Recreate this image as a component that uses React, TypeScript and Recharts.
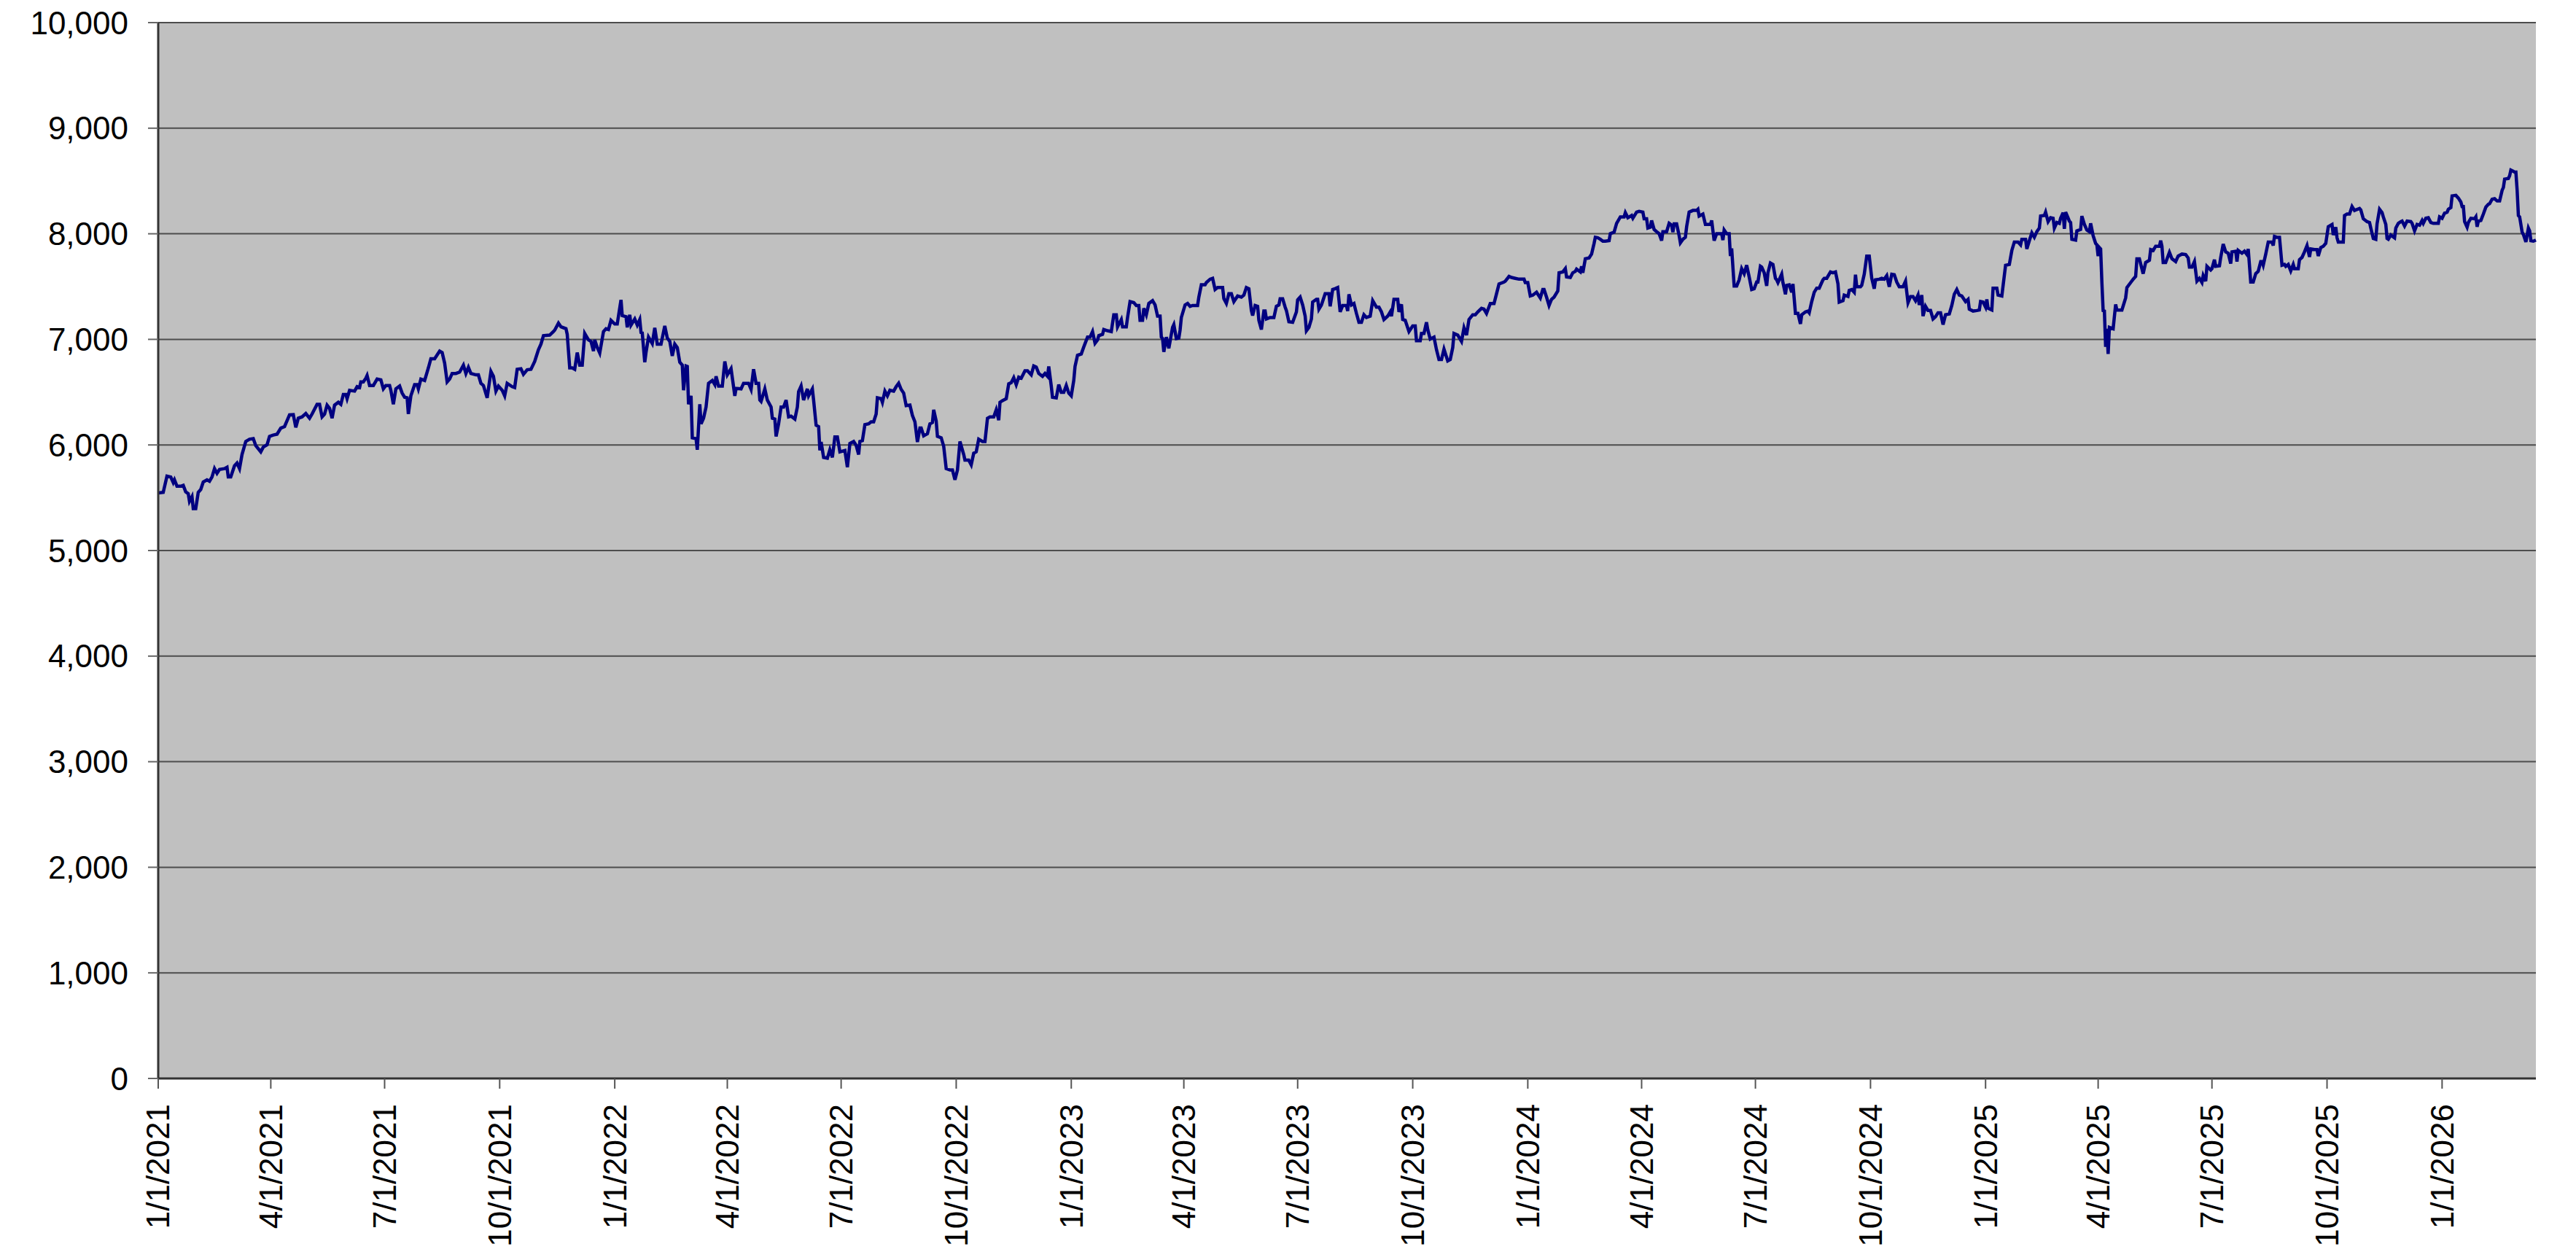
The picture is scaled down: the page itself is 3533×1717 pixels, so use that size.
import { CartesianGrid, Line, LineChart, XAxis, YAxis } from "recharts";

// Daily closes, as [days since 1/1/2021, value].
const closes2021: [number, number][] = [
  [0, 5546], [4, 5551], [7, 5705], [10, 5697], [12, 5644], [13, 5670], [15, 5609], [18, 5609], [20, 5617],
  [22, 5556], [24, 5538], [25, 5466], [27, 5511], [28, 5397], [30, 5397], [32, 5551], [34, 5578], [36, 5649],
  [39, 5670], [41, 5657], [43, 5697], [45, 5776], [47, 5731], [49, 5768], [53, 5776], [55, 5789], [56, 5697],
  [58, 5697], [61, 5803], [63, 5829], [65, 5776], [67, 5909], [70, 6033], [73, 6054], [76, 6060], [78, 5993],
  [82, 5935], [84, 5980], [87, 6001], [89, 6081], [92, 6094], [95, 6102], [98, 6160], [101, 6174], [105, 6285],
  [108, 6287], [110, 6166], [112, 6253], [115, 6266], [118, 6298], [121, 6253], [123, 6293], [127, 6385],
  [129, 6385], [131, 6266], [133, 6293], [135, 6377], [137, 6346], [139, 6253], [141, 6377], [144, 6404],
  [146, 6385], [148, 6478], [150, 6478], [151, 6438], [153, 6518], [157, 6510], [159, 6552], [161, 6544],
  [162, 6597], [164, 6597], [166, 6632], [167, 6658], [169, 6563], [172, 6563], [175, 6624], [178, 6616],
  [180, 6531], [182, 6563], [185, 6563], [186, 6518], [188, 6385], [190, 6531], [193, 6558], [195, 6491],
  [197, 6452], [199, 6446], [200, 6293], [202, 6465], [205, 6571], [207, 6571], [208, 6531], [210, 6624],
  [213, 6611], [216, 6730], [218, 6817], [221, 6817], [225, 6889], [227, 6875], [229, 6775], [231, 6597],
  [233, 6624], [235, 6677], [238, 6677], [241, 6690], [244, 6756], [246, 6677], [248, 6735], [250, 6677],
  [254, 6664], [256, 6664], [258, 6584], [260, 6563], [263, 6446], [266, 6696], [268, 6650], [270, 6510],
  [272, 6558], [275, 6518], [277, 6465], [279, 6584], [283, 6552], [285, 6544], [287, 6717], [290, 6722],
  [292, 6669], [295, 6712], [298, 6717], [301, 6791], [302, 6828], [304, 6902], [306, 6955], [308, 7035],
  [313, 7040], [316, 7074], [317, 7087], [320, 7154], [322, 7119], [326, 7101], [327, 7048], [329, 6730],
  [331, 6730], [333, 6717], [335, 6875], [337, 6756], [339, 6756], [341, 7056], [344, 6995], [346, 6981],
  [348, 6889], [349, 6995], [351, 6923], [353, 6870], [356, 7074], [358, 7101], [360, 7093], [362, 7180],
];

const closes2022: [number, number][] = [
  [365, 7146], [367, 7146], [370, 7374], [371, 7225], [374, 7215], [375, 7114], [377, 7233], [378, 7135],
  [381, 7193], [383, 7135], [385, 7188], [386, 7066], [387, 7061], [389, 6783], [390, 6876], [392, 7021],
  [395, 6960], [397, 7109], [399, 6955], [402, 6955], [405, 7127], [407, 7013], [409, 6981], [411, 6843],
  [413, 6955], [415, 6923], [417, 6783], [419, 6756], [420, 6518], [422, 6748], [423, 6743], [424, 6385],
  [426, 6465], [427, 6068], [430, 6060], [431, 5954], [433, 6385], [434, 6200], [436, 6253], [438, 6359],
  [440, 6584], [443, 6611], [445, 6571], [446, 6650], [448, 6558], [451, 6558], [453, 6791], [455, 6664],
  [458, 6722], [461, 6465], [462, 6536], [466, 6531], [468, 6584], [472, 6584], [474, 6526], [476, 6717],
  [478, 6584], [480, 6584], [481, 6425], [482, 6412], [485, 6531], [487, 6425], [490, 6359], [491, 6253],
  [493, 6245], [494, 6081], [496, 6200], [498, 6359], [500, 6359], [502, 6425], [504, 6266], [506, 6272],
  [509, 6245], [511, 6359], [512, 6505], [514, 6558], [516, 6425], [519, 6531], [520, 6465], [523, 6531],
  [524, 6425], [526, 6187], [528, 6174], [529, 5948], [530, 6028], [532, 5882], [535, 5874], [537, 5954],
  [539, 5882], [541, 6076], [543, 6076], [545, 5935], [549, 5948], [551, 5789], [553, 6014], [556, 6033],
  [558, 5996], [560, 5909], [561, 6033], [563, 6041], [565, 6192], [568, 6200], [570, 6219], [572, 6219],
  [574, 6293], [575, 6446], [578, 6438], [579, 6404], [581, 6510], [583, 6465], [585, 6518], [588, 6510],
  [590, 6552], [592, 6584], [594, 6526], [596, 6491], [598, 6372], [601, 6377], [603, 6279], [605, 6219],
  [607, 6028], [609, 6160], [610, 6160], [612, 6086], [615, 6107], [617, 6200], [619, 6213], [620, 6333],
  [622, 6227], [623, 6081], [626, 6068], [628, 5988], [630, 5776], [633, 5763], [635, 5763], [637, 5670],
  [639, 5763], [641, 6033], [644, 5909], [645, 5856], [648, 5856], [650, 5811], [652, 5922], [654, 5935],
  [656, 6054], [659, 6033], [661, 6033], [663, 6253], [665, 6266], [668, 6266], [670, 6333], [672, 6234],
  [673, 6404], [675, 6420], [678, 6438], [680, 6579], [682, 6590], [684, 6637], [686, 6571], [688, 6642],
  [690, 6632], [693, 6703], [695, 6703], [698, 6664], [700, 6748], [702, 6738], [704, 6677], [707, 6650],
  [709, 6677], [711, 6650], [712, 6743], [714, 6558], [715, 6452], [718, 6446], [720, 6571], [722, 6499],
  [724, 6499], [726, 6563], [728, 6491],
];

const closes2023: [number, number][] = [
  [730, 6465], [732, 6611], [733, 6743], [735, 6849], [738, 6862], [740, 6928], [743, 7021], [745, 7021],
  [747, 7074], [749, 6963], [751, 6995], [752, 7035], [755, 7048], [756, 7093], [759, 7082], [762, 7074],
  [764, 7233], [766, 7233], [767, 7119], [770, 7188], [771, 7119], [774, 7119], [775, 7207], [777, 7358],
  [780, 7348], [782, 7321], [784, 7321], [785, 7180], [787, 7180], [788, 7294], [790, 7233], [792, 7340],
  [795, 7366], [797, 7326], [799, 7220], [801, 7220], [802, 7021], [803, 7008], [804, 6881], [806, 7021],
  [808, 6915], [809, 6981], [811, 7114], [812, 7140], [814, 7008], [816, 7013], [817, 7087], [818, 7207],
  [821, 7326], [823, 7340], [825, 7313], [827, 7321], [831, 7321], [832, 7400], [834, 7517], [837, 7517],
  [838, 7538], [841, 7570], [843, 7578], [845, 7472], [847, 7491], [851, 7491], [852, 7385], [854, 7340],
  [856, 7432], [858, 7432], [860, 7358], [863, 7411], [866, 7400], [868, 7419], [870, 7491], [872, 7480],
  [874, 7273], [875, 7225], [877, 7321], [879, 7313], [880, 7180], [882, 7093], [884, 7268], [885, 7268],
  [886, 7193], [889, 7207], [892, 7207], [894, 7313], [896, 7326], [897, 7385], [899, 7385], [901, 7305],
  [902, 7273], [904, 7167], [907, 7162], [910, 7260], [911, 7374], [913, 7400], [915, 7326], [917, 7220],
  [918, 7082], [920, 7114], [922, 7193], [923, 7353], [926, 7379], [927, 7379], [928, 7286], [930, 7326],
  [933, 7432], [936, 7432], [937, 7313], [939, 7472], [941, 7480], [943, 7491], [945, 7260], [947, 7321],
  [950, 7321], [951, 7268], [952, 7427], [954, 7326], [956, 7340], [958, 7246], [960, 7162], [962, 7162],
  [964, 7233], [966, 7207], [969, 7220], [971, 7366], [974, 7305], [976, 7305], [978, 7260], [980, 7188],
  [983, 7220], [985, 7260], [986, 7220], [988, 7379], [991, 7379], [992, 7260], [994, 7332], [995, 7188],
  [997, 7180], [1000, 7074], [1003, 7127], [1005, 7127], [1006, 6987], [1009, 6987], [1010, 7056],
  [1012, 7056], [1014, 7162], [1015, 7093], [1017, 7003], [1020, 7021], [1022, 6902], [1024, 6809],
  [1026, 6809], [1028, 6907], [1031, 6796], [1033, 6809], [1035, 6923], [1036, 7056], [1039, 7040],
  [1042, 6981], [1044, 7109], [1046, 7040], [1048, 7188], [1051, 7233], [1053, 7233], [1055, 7260],
  [1058, 7294], [1060, 7286], [1062, 7246], [1065, 7339], [1068, 7339], [1070, 7432], [1072, 7525],
  [1076, 7543], [1077, 7551], [1080, 7596], [1082, 7586], [1085, 7578], [1088, 7570], [1092, 7570],
  [1093, 7538],
];

const closes2024: [number, number][] = [
  [1095, 7538], [1097, 7411], [1099, 7419], [1102, 7446], [1105, 7392], [1107, 7472], [1108, 7472],
  [1110, 7400], [1112, 7321], [1114, 7379], [1116, 7400], [1119, 7459], [1120, 7631], [1123, 7639],
  [1125, 7670], [1126, 7591], [1129, 7586], [1131, 7631], [1133, 7644], [1134, 7665], [1137, 7639],
  [1138, 7692], [1139, 7631], [1141, 7763], [1144, 7771], [1146, 7808], [1148, 7909], [1149, 7967],
  [1151, 7962], [1153, 7948], [1155, 7930], [1157, 7930], [1160, 7935], [1161, 8001], [1164, 8015],
  [1166, 8099], [1169, 8160], [1172, 8160], [1173, 8200], [1175, 8152], [1178, 8173], [1179, 8147],
  [1182, 8205], [1184, 8213], [1187, 8205], [1188, 8142], [1190, 8142], [1191, 8054], [1193, 8062],
  [1194, 8126], [1196, 8041], [1198, 8020], [1200, 8001], [1202, 7935], [1203, 8020], [1206, 8020],
  [1208, 8099], [1210, 8081], [1211, 8015], [1212, 8094], [1214, 8094], [1216, 7983], [1217, 7914],
  [1219, 7948], [1221, 7967], [1222, 8067], [1224, 8205], [1227, 8221], [1230, 8221], [1231, 8232],
  [1232, 8168], [1235, 8187], [1237, 8088], [1241, 8088], [1242, 8126], [1244, 7935], [1246, 8001],
  [1247, 8001], [1250, 8001], [1251, 7940], [1252, 8036], [1254, 8001], [1256, 8001], [1257, 7789],
  [1258, 7861], [1260, 7506], [1262, 7506], [1264, 7564], [1266, 7670], [1268, 7622], [1270, 7702],
  [1272, 7591], [1274, 7472], [1276, 7480], [1278, 7543], [1279, 7543], [1281, 7692], [1282, 7684],
  [1284, 7631], [1286, 7506], [1287, 7631], [1289, 7723], [1291, 7710], [1293, 7578], [1294, 7564],
  [1295, 7538], [1296, 7564], [1298, 7617], [1299, 7538], [1301, 7427], [1302, 7512], [1304, 7517],
  [1306, 7446], [1307, 7525], [1309, 7246], [1311, 7246], [1313, 7146], [1314, 7233], [1317, 7260],
  [1319, 7268], [1320, 7252], [1322, 7358], [1324, 7446], [1326, 7485], [1328, 7485], [1329, 7512],
  [1331, 7564], [1332, 7578], [1334, 7578], [1337, 7639], [1339, 7631], [1341, 7639], [1343, 7525],
  [1344, 7353], [1347, 7366], [1348, 7419], [1351, 7406], [1352, 7464], [1354, 7472], [1356, 7446],
  [1357, 7612], [1358, 7498], [1361, 7498], [1362, 7512], [1364, 7617], [1366, 7789], [1368, 7789],
  [1370, 7578], [1372, 7480], [1373, 7564], [1376, 7570], [1378, 7578], [1380, 7570], [1382, 7604],
  [1384, 7498], [1386, 7617], [1388, 7612], [1390, 7543], [1392, 7498], [1395, 7498], [1397, 7551],
  [1398, 7446], [1399, 7347], [1401, 7405], [1403, 7405], [1405, 7366], [1407, 7419], [1408, 7326],
  [1410, 7419], [1411, 7220], [1413, 7313], [1415, 7273], [1417, 7273], [1419, 7193], [1421, 7215],
  [1423, 7252], [1425, 7252], [1427, 7140], [1429, 7233], [1432, 7241], [1434, 7321], [1436, 7427],
  [1438, 7472], [1440, 7419], [1442, 7411], [1445, 7358], [1447, 7379], [1448, 7286], [1451, 7268],
  [1454, 7273], [1456, 7278], [1457, 7358], [1459, 7353],
];

const closes2025: [number, number][] = [
  [1461, 7305], [1462, 7379], [1463, 7294], [1466, 7278], [1467, 7485], [1470, 7485], [1471, 7419],
  [1474, 7411], [1477, 7702], [1480, 7710], [1482, 7842], [1484, 7922], [1487, 7922], [1489, 7895],
  [1490, 7948], [1493, 7948], [1494, 7856], [1496, 7935], [1498, 8009], [1500, 7967], [1502, 8020],
  [1504, 8054], [1505, 8168], [1508, 8173], [1509, 8205], [1511, 8115], [1513, 8152], [1515, 8147],
  [1516, 8054], [1518, 8107], [1520, 8099], [1521, 8147], [1523, 8200], [1524, 8046], [1525, 8205],
  [1528, 8120], [1529, 8107], [1530, 7948], [1533, 7940], [1534, 8028], [1537, 8041], [1538, 8168],
  [1540, 8089], [1542, 8036], [1544, 8020], [1545, 8099], [1547, 7983], [1549, 7909], [1550, 7895],
  [1551, 7789], [1552, 7869], [1553, 7856], [1554, 7538], [1555, 7273], [1556, 7268], [1557, 6929],
  [1558, 7101], [1559, 6862], [1560, 7114], [1563, 7101], [1565, 7331], [1566, 7278], [1570, 7278],
  [1573, 7392], [1574, 7491], [1577, 7538], [1579, 7570], [1581, 7596], [1582, 7763], [1584, 7763],
  [1587, 7622], [1589, 7728], [1592, 7750], [1593, 7850], [1595, 7842], [1597, 7882], [1600, 7882],
  [1601, 7935], [1602, 7882], [1603, 7728], [1605, 7728], [1608, 7824], [1610, 7763], [1613, 7737],
  [1615, 7789], [1618, 7808], [1621, 7803], [1623, 7771], [1624, 7684], [1626, 7684], [1628, 7737],
  [1630, 7551], [1632, 7578], [1634, 7538], [1635, 7604], [1637, 7551], [1638, 7692], [1641, 7657],
  [1642, 7670], [1644, 7755], [1645, 7692], [1648, 7697], [1649, 7776], [1651, 7903], [1653, 7829],
  [1655, 7816], [1657, 7718], [1658, 7829], [1661, 7835], [1662, 7737], [1663, 7842], [1666, 7816],
  [1668, 7835], [1670, 7803], [1671, 7856], [1673, 7543], [1675, 7543], [1677, 7622], [1679, 7644],
  [1681, 7737], [1682, 7737], [1683, 7702], [1685, 7808], [1687, 7922], [1690, 7922], [1691, 7888],
  [1692, 7975], [1694, 7967], [1696, 7967], [1698, 7702], [1700, 7710], [1701, 7692], [1703, 7710],
  [1705, 7649], [1707, 7710], [1708, 7670], [1711, 7670], [1712, 7755], [1714, 7776], [1716, 7829],
  [1718, 7888], [1720, 7781], [1721, 7856], [1724, 7850], [1726, 7850], [1727, 7789], [1729, 7869],
  [1731, 7882], [1733, 7909], [1735, 8067], [1738, 8088], [1739, 7988], [1741, 8062], [1742, 7962],
  [1743, 7922], [1747, 7922], [1748, 8173], [1750, 8187], [1752, 8187], [1754, 8258], [1756, 8221],
  [1757, 8226], [1760, 8240], [1761, 8226], [1763, 8142], [1766, 8115], [1768, 8107], [1769, 8054],
  [1771, 7956], [1773, 7948], [1774, 8094], [1776, 8232], [1778, 8200], [1779, 8160], [1781, 8089],
  [1782, 7956], [1783, 7948], [1785, 7988], [1788, 7962], [1789, 8054], [1791, 8099], [1793, 8115],
  [1794, 8120], [1796, 8073], [1798, 8120], [1801, 8115], [1802, 8099], [1804, 8028], [1806, 8089],
  [1808, 8081], [1810, 8126], [1811, 8099], [1813, 8147], [1815, 8152], [1817, 8107], [1819, 8099],
  [1823, 8099], [1824, 8160],
];

const closes2026: [number, number][] = [
  [1826, 8147], [1828, 8195], [1830, 8205], [1831, 8232], [1833, 8248], [1834, 8359], [1837, 8364],
  [1839, 8338], [1841, 8301], [1842, 8258], [1843, 8258], [1844, 8115], [1846, 8062], [1847, 8107],
  [1849, 8147], [1852, 8142], [1853, 8160], [1854, 8067], [1855, 8120], [1857, 8126], [1859, 8187],
  [1861, 8253], [1863, 8280], [1864, 8285], [1866, 8327], [1868, 8332], [1870, 8311], [1872, 8311],
  [1874, 8412], [1875, 8438], [1876, 8518], [1879, 8524], [1880, 8550], [1881, 8603], [1883, 8592],
  [1884, 8584], [1885, 8584], [1886, 8412], [1887, 8173], [1888, 8160], [1890, 8015], [1891, 7993],
  [1893, 7922], [1895, 8054], [1896, 8028], [1897, 7935], [1899, 7930], [1901, 7940],
];

const quarterLabels = [
  "1/1/2021", "4/1/2021", "7/1/2021", "10/1/2021",
  "1/1/2022", "4/1/2022", "7/1/2022", "10/1/2022",
  "1/1/2023", "4/1/2023", "7/1/2023", "10/1/2023",
  "1/1/2024", "4/1/2024", "7/1/2024", "10/1/2024",
  "1/1/2025", "4/1/2025", "7/1/2025", "10/1/2025",
  "1/1/2026",
];
const axisEndDate = "3/17/2026";
const valueTicks = [0, 1000, 2000, 3000, 4000, 5000, 6000, 7000, 8000, 9000, 10000];

const FONT = '"Liberation Sans", Arial, Helvetica, sans-serif';
const START = Date.UTC(2021, 0, 1);

function dayOf(label: string): number {
  const [m, d, y] = label.split("/").map(Number);
  return Math.round((Date.UTC(y, m - 1, d) - START) / 86400000);
}

const tickDays = quarterLabels.map(dayOf);
const labelByDay = new Map(tickDays.map((d, i) => [d, quarterLabels[i]]));

const data = [...closes2021, ...closes2022, ...closes2023, ...closes2024, ...closes2025, ...closes2026].map(
  ([t, v]) => ({ t, v }),
);

function DateTick({ x, y, payload }: { x: number; y: number; payload: { value: number } }) {
  return (
    <text
      x={x}
      y={y}
      transform={`rotate(-90, ${x}, ${y})`}
      textAnchor="end"
      dy="0.35em"
      fontSize={44}
      fontFamily={FONT}
      fill="#000"
    >
      {labelByDay.get(payload.value) ?? ""}
    </text>
  );
}

export default function App() {
  const xDomain = [0, dayOf(axisEndDate)];
  return (
    <div style={{ position: "absolute", left: 0, top: 0, width: 3533, height: 1717, background: "#fff" }}>
      <LineChart width={3533} height={1717} data={data} margin={{ top: 31, right: 55, left: 0, bottom: 0 }}>
        <CartesianGrid vertical={false} fill="#C0C0C0" stroke="#4d4d4d" strokeWidth={2} />
        <XAxis
          dataKey="t"
          type="number"
          domain={xDomain}
          ticks={tickDays}
          interval={0}
          height={238}
          tickSize={14}
          tickMargin={21}
          tickLine={{ stroke: "#555", strokeWidth: 2 }}
          axisLine={{ stroke: "#333", strokeWidth: 3 }}
          tick={(props: any) => <DateTick {...props} />}
        />
        <XAxis
          xAxisId="top"
          orientation="top"
          dataKey="t"
          type="number"
          domain={xDomain}
          height={0}
          tick={false}
          tickLine={false}
          axisLine={{ stroke: "#808080", strokeWidth: 3 }}
        />
        <YAxis
          type="number"
          domain={[0, 10000]}
          ticks={valueTicks}
          interval={0}
          width={217}
          tickSize={14}
          tickMargin={27}
          tickFormatter={(v: number) => v.toLocaleString("en-US")}
          tick={{ fontSize: 44, fontFamily: FONT, fill: "#000" }}
          tickLine={{ stroke: "#666", strokeWidth: 2 }}
          axisLine={{ stroke: "#333", strokeWidth: 3 }}
        />
        <YAxis
          yAxisId="right"
          orientation="right"
          type="number"
          domain={[0, 10000]}
          width={0}
          tick={false}
          tickLine={false}
          axisLine={{ stroke: "#808080", strokeWidth: 4 }}
        />
        <Line
          type="linear"
          dataKey="v"
          stroke="#000080"
          strokeWidth={4.5}
          dot={false}
          activeDot={false}
          isAnimationActive={false}
        />
      </LineChart>
    </div>
  );
}
